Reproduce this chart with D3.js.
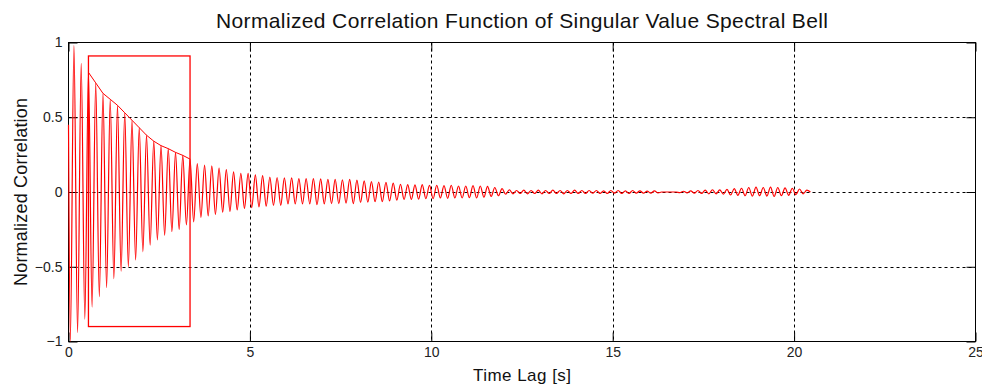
<!DOCTYPE html>
<html>
<head>
<meta charset="utf-8">
<script src="https://cdn.jsdelivr.net/npm/d3@7"></script>
<style>
	body { margin: 0; background: #fff; }
	svg { display: block; font-family: "Liberation Sans", Arial, sans-serif; }
</style>
</head>
<body>
<div id="main-view"></div>
<script>
// one trough and one peak per cycle (period ~0.2 s)
var firstLag = 0, firstValue = 0.45;
var troughStart = 0.05, peakStart = 0.15, cycleStep = 0.2;
var troughValues = [
	-1.00, -0.94, -0.85, -0.77, -0.70, -0.64, -0.58, -0.53, -0.50, -0.455,
	-0.40, -0.355, -0.32, -0.29, -0.265, -0.25, -0.22, -0.20, -0.17, -0.16,
	-0.15, -0.135, -0.13, -0.12, -0.11, -0.105, -0.10, -0.095, -0.09, -0.09,
	-0.08, -0.08, -0.08, -0.08, -0.085, -0.08, -0.078, -0.078, -0.075, -0.078,
	-0.07, -0.068, -0.065, -0.065, -0.06, -0.055, -0.05, -0.05, -0.048, -0.045,
	-0.045, -0.04, -0.042, -0.04, -0.04, -0.038, -0.04, -0.035, -0.03, -0.025,
	-0.015, -0.012, -0.01, -0.012, -0.01, -0.012, -0.01, -0.01, -0.012, -0.01,
	-0.01, -0.01, -0.008, -0.01, -0.01, -0.008, -0.01, -0.01, -0.008, -0.008,
	-0.008, -0.006, 0, 0, -0.004, -0.006, -0.008, -0.01, -0.012, -0.012,
	-0.015, -0.02, -0.022, -0.025, -0.028, -0.025, -0.027, -0.03, -0.025, -0.022,
	-0.018, -0.012
];
var peakValues = [
	0.98, 0.86, 0.80, 0.73, 0.66, 0.62, 0.58, 0.53, 0.48, 0.43,
	0.38, 0.34, 0.31, 0.29, 0.265, 0.245, 0.22, 0.19, 0.18, 0.175,
	0.16, 0.15, 0.135, 0.125, 0.125, 0.115, 0.11, 0.10, 0.097, 0.095,
	0.095, 0.09, 0.09, 0.09, 0.088, 0.085, 0.085, 0.082, 0.085, 0.08,
	0.075, 0.07, 0.067, 0.065, 0.06, 0.052, 0.05, 0.048, 0.05, 0.045,
	0.045, 0.042, 0.045, 0.04, 0.04, 0.042, 0.04, 0.038, 0.03, 0.022,
	0.015, 0.01, 0.012, 0.01, 0.012, 0.01, 0.012, 0.01, 0.01, 0.012,
	0.01, 0.01, 0.01, 0.008, 0.01, 0.01, 0.008, 0.01, 0.008, 0.006,
	0.008, 0, 0, 0, 0.005, 0.008, 0.01, 0.012, 0.015, 0.014,
	0.018, 0.022, 0.025, 0.03, 0.032, 0.03, 0.033, 0.03, 0.028, 0.025,
	0.02, 0.012
];
var lastLag = 20.45, lastValue = 0;

// envelope drawn over peaks 2..16, and the zoom box
var envelopeFrom = 2, envelopeTo = 16;
var boxLag = [0.55, 3.35];
var boxValue = [-0.9, 0.91];

var xTicks = [0, 5, 10, 15, 20, 25];
var yTicks = [-1, -0.5, 0, 0.5, 1];
var xDomain = [0, 25];
var yDomain = [-1, 1];

var titleText = "Normalized Correlation Function of Singular Value Spectral Bell";
var xLabel = "Time Lag [s]";
var yLabel = "Normalized Correlation";

function buildSeries() {
	var pts = [[firstLag, firstValue]];
	troughValues.forEach(function(v, k) {
		pts.push([troughStart + k * cycleStep, v]);
		if (k < peakValues.length) pts.push([peakStart + k * cycleStep, peakValues[k]]);
	});
	pts.push([lastLag, lastValue]);
	return pts;
}

function drawChart() {
	var width = 982, height = 385;
	var left = 68.5, right = 975.5, top = 42.5, bottom = 341.5;

	var svg = d3.select('#main-view').append('svg')
		.attr('width', width)
		.attr('height', height);

	var x = d3.scaleLinear().domain(xDomain).range([left, right]);
	var y = d3.scaleLinear().domain(yDomain).range([bottom, top]);

	// grid
	svg.append('g').selectAll('line')
		.data(xTicks.filter(function(t) { return t > xDomain[0] && t < xDomain[1]; }))
		.enter().append('line')
		.attr('x1', function(d) { return Math.round(x(d)) + 0.5; })
		.attr('x2', function(d) { return Math.round(x(d)) + 0.5; })
		.attr('y1', top).attr('y2', bottom)
		.attr('stroke', '#000').attr('stroke-dasharray', '3,3');
	svg.append('g').selectAll('line')
		.data(yTicks.filter(function(t) { return t > yDomain[0] && t < yDomain[1]; }))
		.enter().append('line')
		.attr('y1', function(d) { return Math.round(y(d)) + 0.5; })
		.attr('y2', function(d) { return Math.round(y(d)) + 0.5; })
		.attr('x1', left).attr('x2', right)
		.attr('stroke', '#000').attr('stroke-dasharray', '3,3');

	// axes with inward ticks on all four sides
	var axB = svg.append('g').attr('transform', 'translate(0,' + bottom + ')')
		.call(d3.axisBottom(x).tickValues(xTicks).tickSizeInner(-9).tickSizeOuter(0).tickPadding(6));
	var axT = svg.append('g').attr('transform', 'translate(0,' + top + ')')
		.call(d3.axisTop(x).tickValues(xTicks).tickSizeInner(-9).tickSizeOuter(0).tickFormat(''));
	var axL = svg.append('g').attr('transform', 'translate(' + left + ',0)')
		.call(d3.axisLeft(y).tickValues(yTicks).tickSizeInner(-9).tickSizeOuter(0).tickPadding(6)
			.tickFormat(function(d) { return d3.format('')(d); }));
	var axR = svg.append('g').attr('transform', 'translate(' + right + ',0)')
		.call(d3.axisRight(y).tickValues(yTicks).tickSizeInner(-9).tickSizeOuter(0).tickFormat(''));
	[axB, axT, axL, axR].forEach(function(a) {
		a.select('.domain').remove();
		a.selectAll('line').attr('stroke', '#000');
		a.selectAll('text').attr('font-size', 14).attr('fill', '#222')
			.style('font-family', '"Liberation Sans", Arial, sans-serif');
	});

	svg.append('rect')
		.attr('x', left).attr('y', top)
		.attr('width', right - left).attr('height', bottom - top)
		.attr('fill', 'none').attr('stroke', '#000');

	// correlation trace
	var line = d3.line()
		.x(function(d) { return x(d[0]); })
		.y(function(d) { return y(d[1]); })
		.curve(d3.curveMonotoneX);
	svg.append('path')
		.datum(buildSeries())
		.attr('d', line)
		.attr('fill', 'none')
		.attr('stroke', '#ff0000')
		.attr('stroke-width', 1.2);

	// envelope over the boxed peaks
	var env = peakValues.slice(envelopeFrom, envelopeTo + 1).map(function(v, i) {
		return [peakStart + (envelopeFrom + i) * cycleStep, v];
	});
	svg.append('path')
		.datum(env)
		.attr('d', d3.line().x(function(d) { return x(d[0]); }).y(function(d) { return y(d[1]); }))
		.attr('fill', 'none')
		.attr('stroke', '#ff0000')
		.attr('stroke-width', 1);

	svg.append('rect')
		.attr('x', x(boxLag[0])).attr('y', y(boxValue[1]))
		.attr('width', x(boxLag[1]) - x(boxLag[0]))
		.attr('height', y(boxValue[0]) - y(boxValue[1]))
		.attr('fill', 'none')
		.attr('stroke', '#ff0000')
		.attr('stroke-width', 1.3);

	// texts
	svg.append('text')
		.attr('x', (left + right) / 2).attr('y', 28)
		.attr('text-anchor', 'middle')
		.attr('font-size', 21)
		.attr('textLength', 612)
		.attr('lengthAdjust', 'spacing')
		.attr('fill', '#111')
		.text(titleText);
	svg.append('text')
		.attr('x', (left + right) / 2).attr('y', 381)
		.attr('text-anchor', 'middle')
		.attr('font-size', 17)
		.attr('textLength', 98)
		.attr('lengthAdjust', 'spacing')
		.attr('fill', '#111')
		.text(xLabel);
	svg.append('text')
		.attr('transform', 'translate(27,' + (top + bottom) / 2 + ') rotate(-90)')
		.attr('text-anchor', 'middle')
		.attr('font-size', 18)
		.attr('textLength', 188)
		.attr('lengthAdjust', 'spacing')
		.attr('fill', '#111')
		.text(yLabel);
}

drawChart();
</script>
</body>
</html>
